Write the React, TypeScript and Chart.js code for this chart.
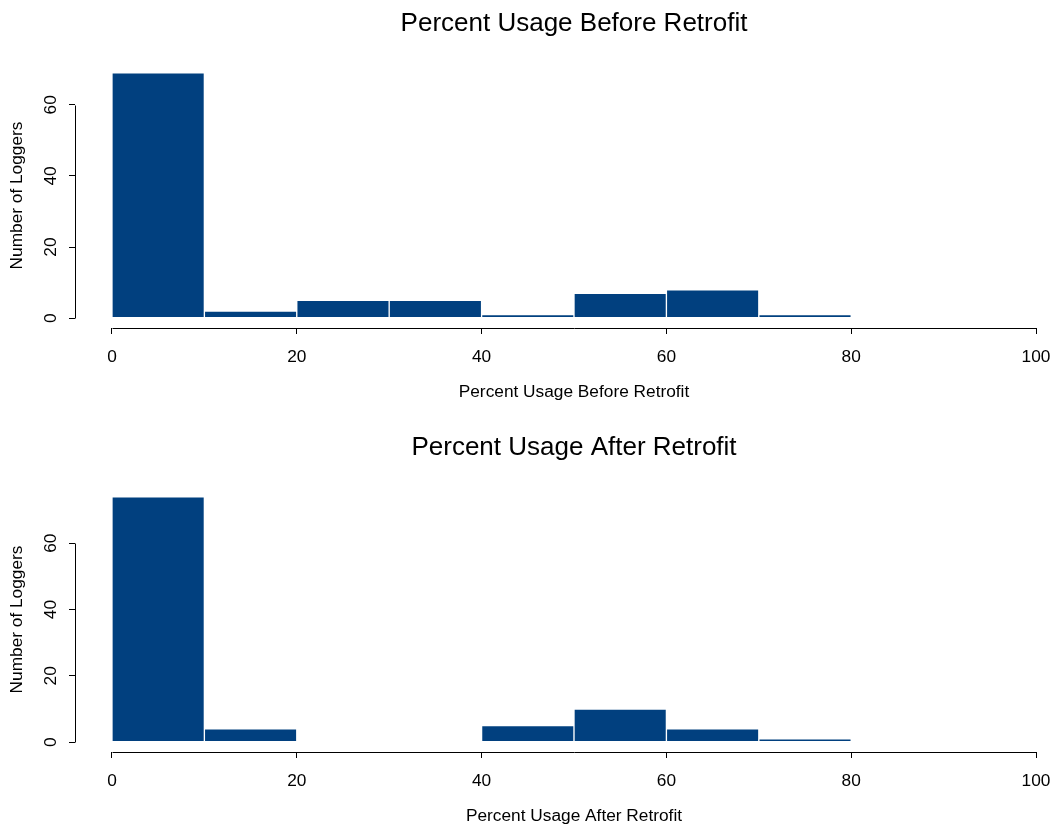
import React, { useEffect, useRef } from "react";
import { Chart, registerables } from "chart.js";

Chart.register(...registerables);

// ---- data ----
const breaks = [0, 10, 20, 30, 40, 50, 60, 70, 80, 90, 100];
const beforeCounts = [69, 2, 5, 5, 1, 7, 8, 1, 0, 0];
const afterCounts = [74, 4, 0, 0, 5, 10, 4, 1];
const xLimits = [0, 100];
const xTicks = [0, 20, 40, 60, 80, 100];
const yTicks = [0, 20, 40, 60];
const beforeTitle = "Percent Usage Before Retrofit";
const afterTitle = "Percent Usage After Retrofit";
const beforeXLabel = "Percent Usage Before Retrofit";
const afterXLabel = "Percent Usage After Retrofit";
const yLabel = "Number of Loggers";

const FONT = "'Liberation Sans', Arial, Helvetica, sans-serif";
const BAR_COLOR = "#01407F";
const CANVAS_W = 1100;
const CANVAS_H = 424;

const rPlugin = {
  id: "rStyle",
  afterDraw(chart: any) {
    const { ctx, chartArea, scales } = chart;
    const x = scales.x;
    const y = scales.y;
    const opts = chart.options.plugins.rStyle;
    ctx.save();
    ctx.strokeStyle = "#000";
    ctx.lineWidth = 1;
    // x axis line (from first to last tick)
    const yb = Math.round(chartArea.bottom) + 0.5;
    ctx.beginPath();
    ctx.moveTo(Math.round(x.getPixelForValue(xTicks[0])) + 0.5, yb);
    ctx.lineTo(Math.round(x.getPixelForValue(xTicks[xTicks.length - 1])) + 0.5, yb);
    ctx.stroke();
    // y axis line
    const xl = Math.round(chartArea.left) + 0.5;
    ctx.beginPath();
    ctx.moveTo(xl, Math.round(y.getPixelForValue(yTicks[0])) + 0.5);
    ctx.lineTo(xl, Math.round(y.getPixelForValue(yTicks[yTicks.length - 1])) + 0.5);
    ctx.stroke();
    // y tick labels, rotated (parallel to the axis)
    ctx.fillStyle = "#000";
    ctx.font = `17.3px ${FONT}`;
    ctx.textAlign = "center";
    ctx.textBaseline = "middle";
    for (const v of yTicks) {
      ctx.save();
      ctx.translate(chartArea.left - 23.5, y.getPixelForValue(v));
      ctx.rotate(-Math.PI / 2);
      ctx.fillText(String(v), 0, 0);
      ctx.restore();
    }
    // main title centred on plot region
    ctx.font = `26px ${FONT}`;
    ctx.fillText(opts.title, (chartArea.left + chartArea.right) / 2, 23.5);
    ctx.restore();
  },
};

function makeConfig(counts: number[], title: string, xLabel: string): any {
  const data = counts.map((c, i) => ({ x: (breaks[i] + breaks[i + 1]) / 2, y: c }));
  const ymax = Math.max(...counts);
  const xr = xLimits[1] - xLimits[0];
  return {
    type: "bar",
    data: {
      datasets: [
        {
          data,
          backgroundColor: BAR_COLOR,
          borderColor: "#ffffff",
          borderWidth: 1,
          borderSkipped: false,
          barPercentage: 1,
          categoryPercentage: 1,
        },
      ],
    },
    plugins: [rPlugin],
    options: {
      animation: false,
      responsive: false,
      devicePixelRatio: 1,
      events: [],
      layout: { padding: { top: 63, left: 0, right: CANVAS_W - 1073, bottom: 0 } },
      plugins: {
        legend: { display: false },
        tooltip: { enabled: false },
        title: { display: false },
        rStyle: { title },
      },
      scales: {
        x: {
          type: "linear",
          min: xLimits[0] - 0.04 * xr,
          max: xLimits[1] + 0.04 * xr,
          offset: false,
          afterBuildTicks: (s: any) => {
            s.ticks = xTicks.map((v) => ({ value: v }));
          },
          afterFit: (s: any) => {
            s.height = 96;
          },
          grid: {
            offset: false,
            drawOnChartArea: false,
            drawTicks: true,
            tickLength: 6,
            color: "#000",
            lineWidth: 1,
          },
          border: { display: false },
          ticks: {
            color: "#000",
            font: { family: FONT, size: 17.3 },
            padding: 12.6,
            maxRotation: 0,
            minRotation: 0,
            autoSkip: false,
          },
          title: {
            display: true,
            text: xLabel,
            color: "#000",
            font: { family: FONT, size: 17.3 },
            padding: { top: 0, bottom: 21.6 },
          },
        },
        y: {
          type: "linear",
          min: -0.04 * ymax,
          max: ymax * 1.04,
          afterBuildTicks: (s: any) => {
            s.ticks = yTicks.map((v) => ({ value: v }));
          },
          afterFit: (s: any) => {
            s.width = 75;
          },
          grid: {
            drawOnChartArea: false,
            drawTicks: true,
            tickLength: 6,
            color: "#000",
            lineWidth: 1,
          },
          border: { display: false },
          ticks: { display: false },
          title: {
            display: true,
            text: yLabel,
            color: "#000",
            font: { family: FONT, size: 17.3 },
            padding: { top: 7.1, bottom: 0 },
          },
        },
      },
    },
  };
}

function Hist({ counts, title, xLabel, top }: { counts: number[]; title: string; xLabel: string; top: number }) {
  const ref = useRef<HTMLCanvasElement | null>(null);
  useEffect(() => {
    if (!ref.current) return;
    const chart = new Chart(ref.current, makeConfig(counts, title, xLabel));
    return () => chart.destroy();
  }, [counts, title, xLabel]);
  return (
    <canvas
      ref={ref}
      width={CANVAS_W}
      height={CANVAS_H}
      style={{ position: "absolute", left: 0, top, width: CANVAS_W, height: CANVAS_H, display: "block" }}
    />
  );
}

export default function App() {
  return (
    <div
      style={{
        position: "fixed",
        left: 0,
        top: 0,
        width: 1056,
        height: 828,
        overflow: "hidden",
        background: "#fff",
      }}
    >
      <Hist counts={beforeCounts} title={beforeTitle} xLabel={beforeXLabel} top={0} />
      <Hist counts={afterCounts} title={afterTitle} xLabel={afterXLabel} top={CANVAS_H} />
    </div>
  );
}
